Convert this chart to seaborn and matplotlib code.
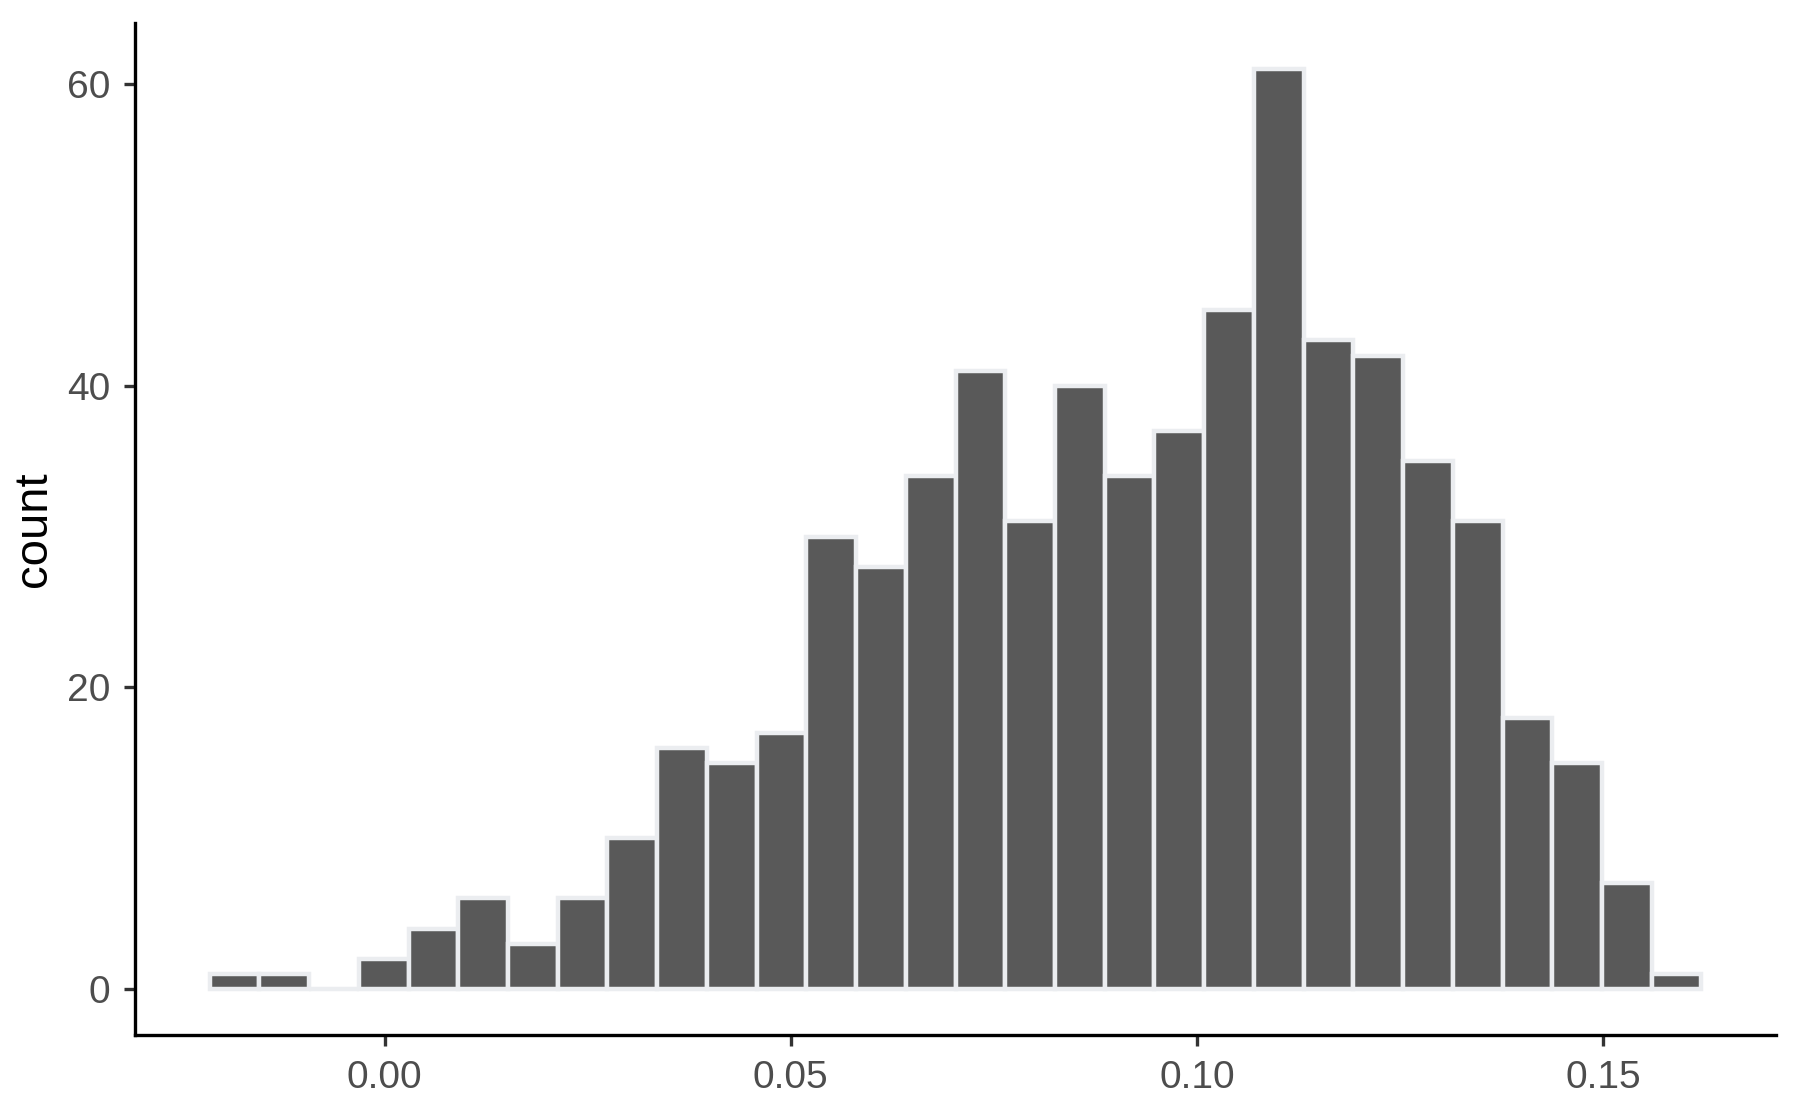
import numpy as np
import pandas as pd
import matplotlib
matplotlib.use('Agg')
import matplotlib.pyplot as plt
import seaborn as sns

# histogram counts (30 bins)
counts = [1, 1, 0, 2, 4, 6, 3, 6, 10, 16, 15, 17, 30, 28, 34, 41,
          31, 40, 34, 37, 45, 61, 43, 42, 35, 31, 18, 15, 7, 1]
x_min = -0.02153
bin_width = 0.006121
x_ticks = [0.00, 0.05, 0.10, 0.15]
x_ticklabels = ['0.00', '0.05', '0.10', '0.15']
y_ticks = [0, 20, 40, 60]

edges = x_min + bin_width * np.arange(len(counts) + 1)
centers = (edges[:-1] + edges[1:]) / 2
df = pd.DataFrame({'value': centers, 'n': counts})

sns.set_style('white')
plt.rcParams['font.family'] = ['Liberation Sans', 'DejaVu Sans']

fig = plt.figure(figsize=(9, 5.565), dpi=200)
ax = fig.add_axes([0.075, 0.0701, 0.9117, 0.9092])

sns.histplot(data=df, x='value', weights='n', bins=len(counts),
             binrange=(edges[0], edges[-1]), ax=ax,
             color='#595959', alpha=1, edgecolor='#ebedf0', linewidth=1.6)

# ggplot-like 5% expansion
span = edges[-1] - edges[0]
ax.set_xlim(edges[0] - 0.05 * span, edges[-1] + 0.05 * span)
ax.set_ylim(-0.05 * max(counts), 1.05 * max(counts))

ax.set_xticks(x_ticks)
ax.set_xticklabels(x_ticklabels)
ax.set_yticks(y_ticks)
ax.set_xlabel('')
ax.set_ylabel('count', fontsize=17, color='black', labelpad=4)

for side in ['top', 'right']:
    ax.spines[side].set_visible(False)
for side in ['left', 'bottom']:
    ax.spines[side].set_linewidth(1.2)
    ax.spines[side].set_color('black')

ax.tick_params(axis='both', bottom=True, left=True, length=4, width=1.2,
               color='#333333', labelsize=14, labelcolor='#4d4d4d', pad=5)

fig.savefig('out.png', dpi=200)
